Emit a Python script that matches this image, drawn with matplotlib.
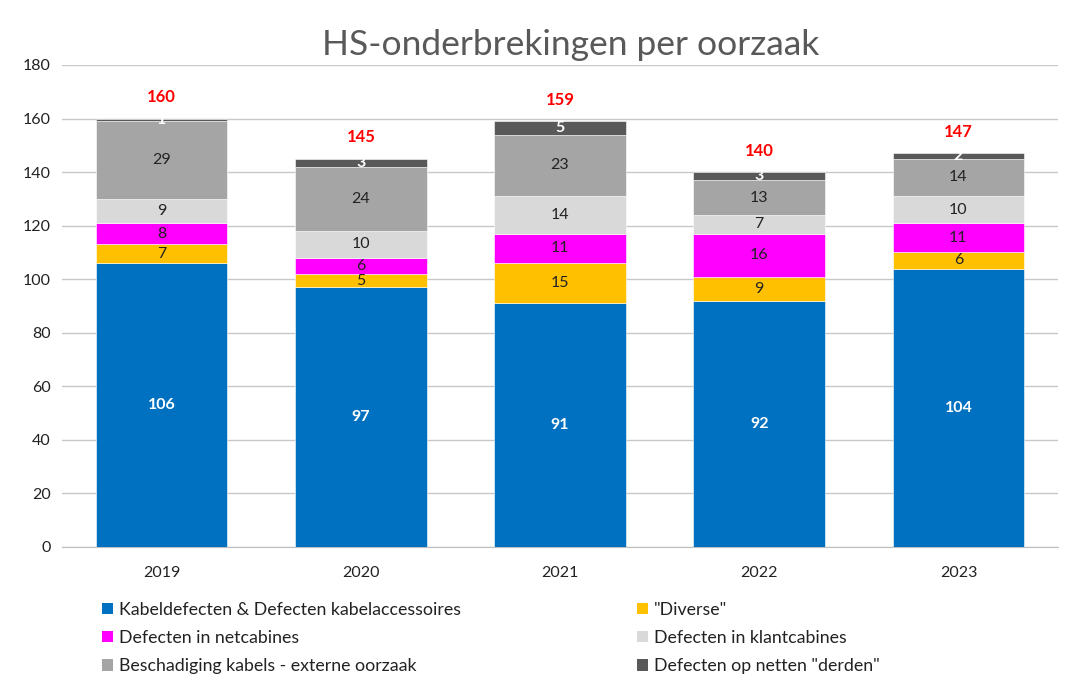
import matplotlib
matplotlib.use("Agg")
import matplotlib.pyplot as plt
from matplotlib.patches import Patch
import numpy as np

plt.rcParams['font.family'] = ['Lato', 'DejaVu Sans']

years = ["2019", "2020", "2021", "2022", "2023"]
series_names = [
    "Kabeldefecten & Defecten kabelaccessoires",
    "\"Diverse\"",
    "Defecten in netcabines",
    "Defecten in klantcabines",
    "Beschadiging kabels - externe oorzaak",
    "Defecten op netten \"derden\"",
]
kabel = [106, 97, 91, 92, 104]
diverse = [7, 5, 15, 9, 6]
netcabines = [8, 6, 11, 16, 11]
klantcabines = [9, 10, 14, 7, 10]
beschadiging = [29, 24, 23, 13, 14]
derden = [1, 3, 5, 3, 2]

series = [kabel, diverse, netcabines, klantcabines, beschadiging, derden]
colors = ["#0070C0", "#FFC000", "#FF00FF", "#D9D9D9", "#A5A5A5", "#595959"]
label_colors = ["white", "#222222", "#222222", "#222222", "#222222", "white"]
label_weights = ["bold", "normal", "normal", "normal", "normal", "bold"]

fig = plt.figure(figsize=(10.77, 6.85), dpi=100)
ax = fig.add_axes([62/1077, 138/685, (1058-62)/1077, (547-65)/685])

x = np.arange(len(years))
bottom = np.zeros(len(years))
for vals, col, lc, lw in zip(series, colors, label_colors, label_weights):
    vals = np.array(vals, dtype=float)
    ax.bar(x, vals, 0.66, bottom=bottom, color=col, edgecolor="white", linewidth=0.4, zorder=3)
    for xi, v, b in zip(x, vals, bottom):
        ax.text(xi, b + v/2, f"{int(v)}", ha="center", va="center", color=lc,
                fontweight=lw, fontsize=11.5, zorder=4)
    bottom += vals

for xi, t in zip(x, bottom):
    ax.text(xi, t + 8, f"{int(t)}", ha="center", va="center", color="#FF0000",
            fontweight="bold", fontsize=12, zorder=4)

ax.set_xlim(-0.5, len(years) - 0.5)
ax.set_ylim(0, 180)
ax.set_yticks(np.arange(0, 181, 20))
ax.set_xticks(x)
ax.set_xticklabels(years)
ax.tick_params(axis="both", length=0, labelsize=11.5, colors="#222222")
ax.tick_params(axis="x", pad=14)
ax.tick_params(axis="y", pad=8)
ax.yaxis.grid(True, color="#C8C8C8", linewidth=1.0, zorder=0)
ax.set_axisbelow(True)
for s in ["top", "right", "left"]:
    ax.spines[s].set_visible(False)
ax.spines["bottom"].set_color("#BFBFBF")

fig.text(571/1077, 1 - 45/685, "HS-onderbrekingen per oorzaak", ha="center", va="center",
         fontsize=25.5, color="#595959")

handles = [Patch(facecolor=c, edgecolor="none") for c in colors]
left_idx = [0, 2, 4]
right_idx = [1, 3, 5]
for idx, xpos in [(left_idx, 102/1077), (right_idx, 637/1077)]:
    leg = fig.legend([handles[i] for i in idx], [series_names[i] for i in idx],
                     loc="upper left", bbox_to_anchor=(xpos, 1 - 602/685),
                     frameon=False, fontsize=12.8, handlelength=0.6, handleheight=0.6,
                     handletextpad=0.35, labelspacing=0.68, borderpad=0, borderaxespad=0)
    for t in leg.get_texts():
        t.set_color("#222222")

fig.savefig("out.png", dpi=100)
